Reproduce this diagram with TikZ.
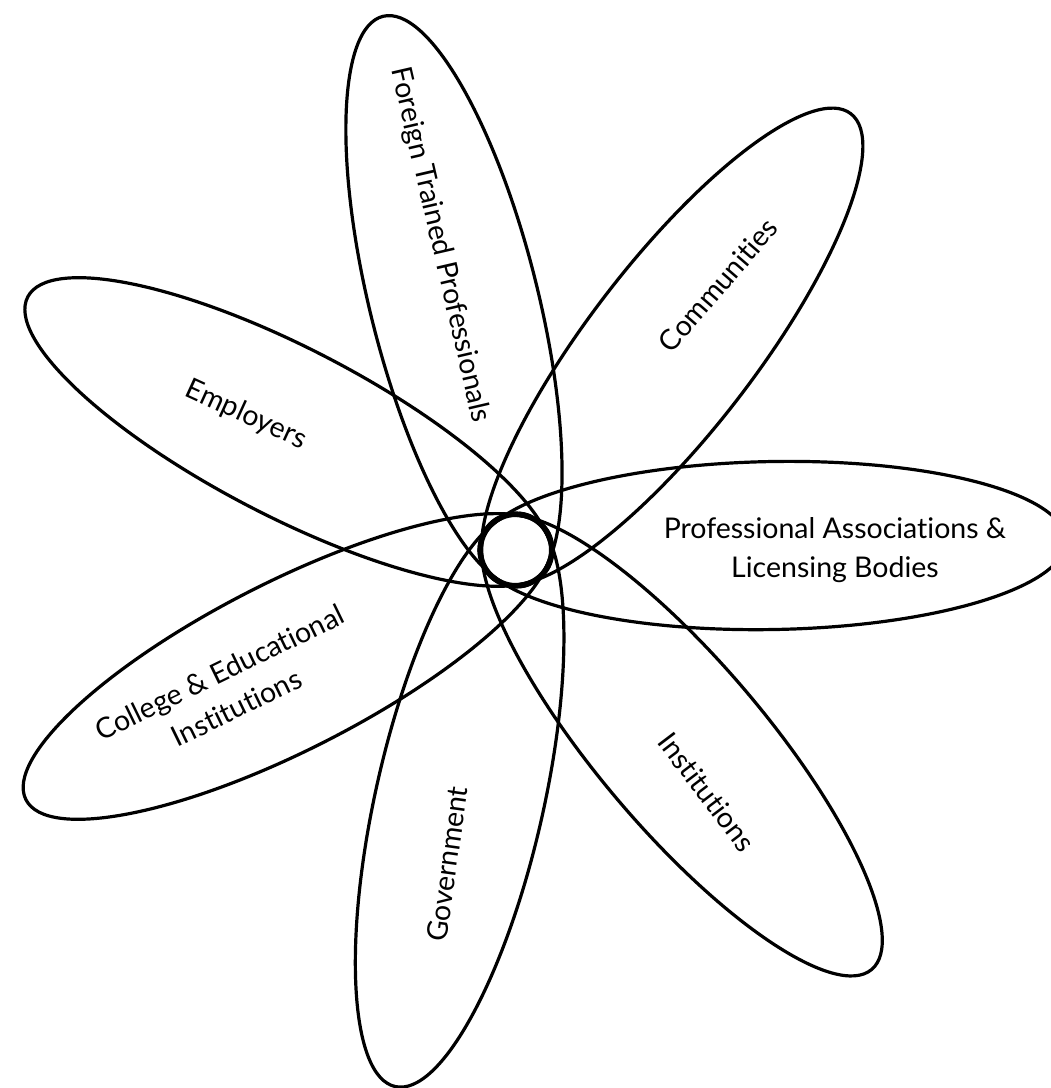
\documentclass[tikz,border=0pt]{standalone}
\usepackage{fontspec}
\setmainfont{Lato}[Ligatures=NoCommon]
\usetikzlibrary{calc}
\begin{document}
\begin{tikzpicture}[x=1pt,y=1pt,
  petal/.style={line width=3.2pt},
  lab/.style={font=\fontsize{28.5}{39}\selectfont, align=center, inner sep=0pt}]
\useasboundingbox (0,0) rectangle (1051,-1088);
\coordinate (C) at (516,-550);
\foreach \ang/\nm in {104/f, 52.5/c, 1/p, -49.7/i, -102.7/g, -153/k, 152.6/e}{
  \coordinate (pc\nm) at ($(C)+(\ang:256.5)$);
  \draw[petal, rotate around={\ang:(pc\nm)}] (pc\nm) ellipse [x radius=293.5pt, y radius=84pt];
}
\draw[petal] (C) circle[radius=37pt];
\draw[line width=2pt] (C) circle[radius=34pt];
\node[lab, rotate=-77] (foreign) at (440,-245) {Foreign Trained Professionals};
\node[lab, rotate=49.2] (comm) at (718,-285) {Communities};
\node[lab, rotate=-24.6] (emp) at (246,-415) {Employers};
\node[lab] (prof) at (835,-550) {Professional Associations \&\\Licensing Bodies};
\node[lab, rotate=26] (coll) at (228,-690) {College \& Educational\\Institutions};
\node[lab, rotate=82] (gov) at (447,-864) {Government};
\node[lab, rotate=-52.8] (inst) at (707,-792) {Institutions};
\end{tikzpicture}
\end{document}
